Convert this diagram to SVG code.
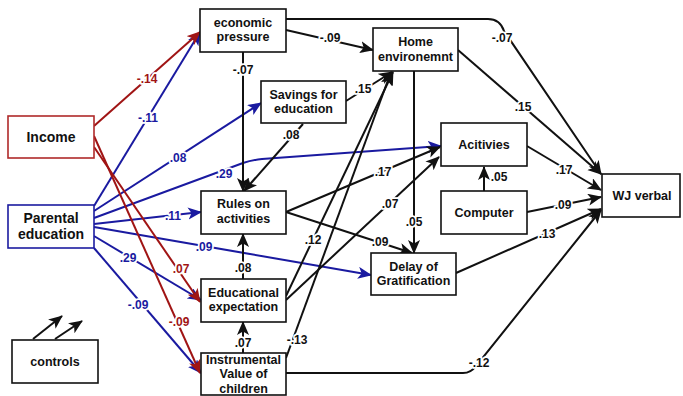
<svg xmlns="http://www.w3.org/2000/svg" width="683" height="396" viewBox="0 0 683 396">
<style>
.n rect{fill:#fff;stroke:#111;stroke-width:1.6}
.n text{font-family:"Liberation Sans",Arial,sans-serif;font-weight:bold;font-size:12.5px;fill:#111;text-anchor:middle}
.big text{font-size:14px}
#income rect{stroke:#b02a2a}
#parental rect{stroke:#1c1ca0}
.e path{fill:none;stroke-width:2}
.k{stroke:#111}
.b{stroke:#1a1aa0}
.r{stroke:#a01414}
.l text{font-family:"Liberation Sans",Arial,sans-serif;font-weight:bold;font-size:12px;text-anchor:middle;stroke:#fff;stroke-width:3.5;paint-order:stroke;stroke-linejoin:round}
.lk{fill:#111}
.lb{fill:#1a1aa0}
.lr{fill:#a01414}
</style>
<defs>
<marker id="ak" markerUnits="userSpaceOnUse" markerWidth="16" markerHeight="14" refX="13" refY="6" orient="auto"><path d="M0,0 L14,6 L0,12 L3.5,6 z" fill="#111"/></marker>
<marker id="ab" markerUnits="userSpaceOnUse" markerWidth="16" markerHeight="14" refX="13" refY="6" orient="auto"><path d="M0,0 L14,6 L0,12 L3.5,6 z" fill="#1a1aa0"/></marker>
<marker id="ar" markerUnits="userSpaceOnUse" markerWidth="16" markerHeight="14" refX="13" refY="6" orient="auto"><path d="M0,0 L14,6 L0,12 L3.5,6 z" fill="#a01414"/></marker>
</defs>
<rect width="683" height="396" fill="#fff"/>
<g id="connectors" class="e">
<path class="b" marker-end="url(#ab)" d="M94,206 L200,32"/>
<path class="b" marker-end="url(#ab)" d="M94,211 L261,103"/>
<path class="b" marker-end="url(#ab)" d="M94,218 L243,163 Q252,160 262,159 L441,146"/>
<path class="b" marker-end="url(#ab)" d="M94,224 L201,212"/>
<path class="b" marker-end="url(#ab)" d="M94,227 L371,275"/>
<path class="b" marker-end="url(#ab)" d="M94,236 L201,300"/>
<path class="b" marker-end="url(#ab)" d="M94,248 L201,373"/>
<path class="r" marker-end="url(#ar)" d="M94,126 L200,32"/>
<path class="r" marker-end="url(#ar)" d="M94,147 L200,302"/>
<path class="r" marker-end="url(#ar)" d="M94,136 L200,373"/>
<path class="k" marker-end="url(#ak)" d="M243,52 L243,191"/>
<path class="k" marker-end="url(#ak)" d="M286,30 L373,50"/>
<path class="k" marker-end="url(#ak)" d="M286,19 L488,19 Q500,19 504,31 L601,174"/>
<path class="k" marker-end="url(#ak)" d="M346,101 L392,72"/>
<path class="k" marker-end="url(#ak)" d="M303,124 L244,191"/>
<path class="k" marker-end="url(#ak)" d="M458,50 L601,174"/>
<path class="k" marker-end="url(#ak)" d="M414,71 L414,253"/>
<path class="k" marker-end="url(#ak)" d="M286,212 L440,147"/>
<path class="k" marker-end="url(#ak)" d="M286,212 L412,253"/>
<path class="k" marker-end="url(#ak)" d="M286,300 L439,157"/>
<path class="k" marker-end="url(#ak)" d="M286,296 L393,72"/>
<path class="k" marker-end="url(#ak)" d="M243,279 L243,234"/>
<path class="k" marker-end="url(#ak)" d="M243,353 L243,322"/>
<path class="k" marker-end="url(#ak)" d="M286,358 L391,72"/>
<path class="k" marker-end="url(#ak)" d="M286,373 L463,373 Q471,373 476,366 L601,210"/>
<path class="k" marker-end="url(#ak)" d="M527,146 L601,190"/>
<path class="k" marker-end="url(#ak)" d="M484,191 L484,167"/>
<path class="k" marker-end="url(#ak)" d="M527,212 L601,197"/>
<path class="k" marker-end="url(#ak)" d="M456,273 L601,209"/>
<path class="k" marker-end="url(#ak)" d="M33,339 L62,316"/>
<path class="k" marker-end="url(#ak)" d="M55,339 L82,321"/>
</g>
<g id="labels" class="l">
<text class="lb" x="148" y="122">-.11</text>
<text class="lb" x="178" y="162">.08</text>
<text class="lb" x="224" y="178">.29</text>
<text class="lb" x="173" y="220">.11</text>
<text class="lb" x="204" y="251">.09</text>
<text class="lb" x="128" y="262">.29</text>
<text class="lb" x="138" y="309">-.09</text>
<text class="lr" x="147" y="83">-.14</text>
<text class="lr" x="181" y="273">.07</text>
<text class="lr" x="179" y="326">-.09</text>
<text class="lk" x="243" y="74">-.07</text>
<text class="lk" x="330" y="42">-.09</text>
<text class="lk" x="502" y="42">-.07</text>
<text class="lk" x="363" y="93">.15</text>
<text class="lk" x="291" y="139">.08</text>
<text class="lk" x="523" y="111">.15</text>
<text class="lk" x="414" y="226">.05</text>
<text class="lk" x="383" y="176">.17</text>
<text class="lk" x="380" y="246">.09</text>
<text class="lk" x="390" y="208">.07</text>
<text class="lk" x="313" y="244">.12</text>
<text class="lk" x="243" y="272">.08</text>
<text class="lk" x="243" y="347">.07</text>
<text class="lk" x="297" y="344">-.13</text>
<text class="lk" x="479" y="367">-.12</text>
<text class="lk" x="564" y="174">.17</text>
<text class="lk" x="499" y="181">.05</text>
<text class="lk" x="563" y="209">.09</text>
<text class="lk" x="547" y="238">.13</text>
</g>
<g id="econ" class="n"><rect x="200" y="9" width="86" height="43"/><text x="243" y="27">economic</text><text x="243" y="41">pressure</text></g>
<g id="home" class="n"><rect x="373" y="28" width="85" height="43"/><text x="415.5" y="46">Home</text><text x="415.5" y="61">environemnt</text></g>
<g id="savings" class="n"><rect x="261" y="81" width="85" height="42"/><text x="303.5" y="99">Savings for</text><text x="303.5" y="113">education</text></g>
<g id="income" class="n big"><rect x="8" y="116" width="86" height="42"/><text x="51" y="142">Income</text></g>
<g id="parental" class="n big"><rect x="8" y="205" width="86" height="43"/><text x="51" y="223">Parental</text><text x="51" y="239">education</text></g>
<g id="rules" class="n"><rect x="201" y="191" width="85" height="43"/><text x="243.5" y="208">Rules on</text><text x="243.5" y="223">activities</text></g>
<g id="edexp" class="n"><rect x="201" y="279" width="85" height="43"/><text x="243.5" y="297">Educational</text><text x="243.5" y="311">expectation</text></g>
<g id="instr" class="n"><rect x="201" y="353" width="85" height="42"/><text x="243.5" y="364">Instrumental</text><text x="243.5" y="378">Value of</text><text x="243.5" y="393">children</text></g>
<g id="delay" class="n"><rect x="371" y="253" width="85" height="42"/><text x="413.5" y="271">Delay of</text><text x="413.5" y="285">Gratification</text></g>
<g id="activities" class="n"><rect x="441" y="123" width="86" height="43"/><text x="484" y="149">Acitivies</text></g>
<g id="computer" class="n"><rect x="441" y="191" width="86" height="43"/><text x="484" y="217">Computer</text></g>
<g id="wj" class="n"><rect x="602" y="174" width="78" height="43"/><text x="642" y="200">WJ verbal</text></g>
<g id="controls" class="n"><rect x="12" y="340" width="86" height="43"/><text x="55" y="366">controls</text></g>
</svg>
